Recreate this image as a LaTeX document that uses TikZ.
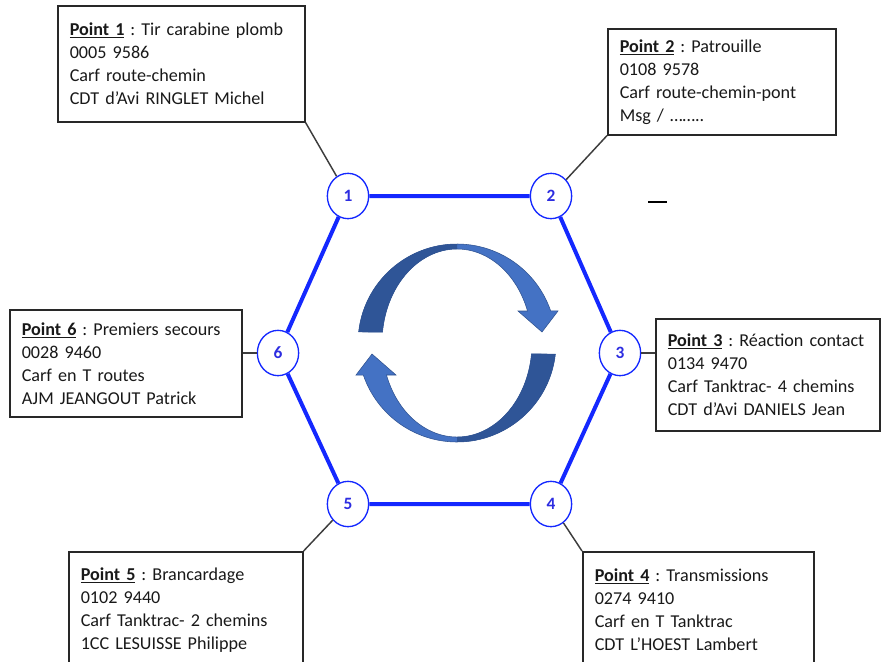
\documentclass[tikz,border=0pt]{standalone}
\usepackage{fontspec}
\setmainfont{Carlito}[WordSpace=0.8]
\usetikzlibrary{shapes.geometric}
\frenchspacing
\definecolor{hexblue}{RGB}{20,40,255}
\definecolor{numblue}{RGB}{45,45,225}
\definecolor{arrdark}{RGB}{47,85,151}
\definecolor{arrlight}{RGB}{68,114,196}
\definecolor{arredge}{RGB}{47,82,143}
\definecolor{boxgray}{RGB}{40,40,40}
\newcommand{\ptitle}[2]{\mbox{\textbf{\underline{Point #1}} : #2}}
\def\ringarrow{(186.4:99) arc[start angle=186.4,end angle=341,radius=99] -- (101,-32) -- (85,-11) -- (61,-32) -- (340.1:75 and 94) arc[start angle=340.1,end angle=186.7,x radius=75,y radius=94] -- cycle}
\begin{document}
\begin{tikzpicture}[x=0.75pt,y=-0.75pt,
  infobox/.style={draw=boxgray,line width=1.2pt,anchor=north west,align=left,inner xsep=9pt,
    font=\fontsize{13.6}{17.25}\selectfont,text=black!90},
  hexpt/.style={ellipse,draw=hexblue,line width=1pt,fill=white,minimum width=31pt,minimum height=34pt,
    inner sep=0pt,text=numblue,font=\fontsize{13}{15}\selectfont\bfseries},
  hexline/.style={draw=hexblue,line width=3pt},
  link/.style={draw=boxgray!90,line width=1.1pt}]
\clip (0,0) rectangle (882,661);
\foreach \r in {0,180}
{
    \begin{scope}[shift={(457,343)},rotate=\r]
    \fill[arrlight] \ringarrow;
    \begin{scope}
    \clip (-110,-110) rectangle (0,0);
    \fill[arrdark] \ringarrow;
    \end{scope}
    \draw[arredge,line width=0.4pt] \ringarrow;
    \end{scope}
}
\node (p1) at (348,196)[hexpt]{1};
\node (p2) at (551,196)[hexpt]{2};
\node (p3) at (620,353)[hexpt]{3};
\node (p4) at (551,504)[hexpt]{4};
\node (p5) at (348,504)[hexpt]{5};
\node (p6) at (278,353)[hexpt]{6};
\draw[hexline] (p1) -- (p2) -- (p3) -- (p4) -- (p5) -- (p6) -- (p1);
\node (b1) at (57,5)[infobox,text width=167.25pt,minimum height=87pt]{\ptitle{1}{Tir carabine plomb}\\0005 9586\\Carf route-chemin\\CDT d’Avi RINGLET Michel};
\node (b2) at (607,28)[infobox,text width=153pt,minimum height=79.5pt]{\ptitle{2}{Patrouille}\\0108 9578\\Carf route-chemin-pont\\Msg / ……..};
\node (b3) at (655,318)[infobox,text width=150pt,minimum height=84pt]{\ptitle{3}{Réaction contact}\\0134 9470\\\mbox{Carf Tanktrac- 4 chemins}\\CDT d’Avi DANIELS Jean};
\node (b4) at (582,551)[infobox,text width=155.25pt,minimum height=87pt]{\ptitle{4}{Transmissions}\\0274 9410\\Carf en T Tanktrac\\CDT L’HOEST Lambert};
\node (b5) at (68,551)[infobox,text width=157.5pt,minimum height=87pt]{\ptitle{5}{Brancardage}\\0102 9440\\\mbox{Carf Tanktrac- 2 chemins}\\1CC LESUISSE Philippe};
\node (b6) at (9,309)[infobox,text width=156pt,minimum height=80.25pt]{\ptitle{6}{Premiers secours}\\0028 9460\\Carf en T routes\\AJM JEANGOUT Patrick};
\draw[link] (b1.south east) -- (p1);
\draw[link] (b2.south west) -- (p2);
\draw[link] (b3.west |- p3) -- (p3);
\draw[link] (b4.north west) -- (p4);
\draw[link] (b5.north east) -- (p5);
\draw[link] (b6.east |- p6) -- (p6);
\draw[line width=1.1pt] (648,202) -- (667,202);
\end{tikzpicture}
\end{document}
